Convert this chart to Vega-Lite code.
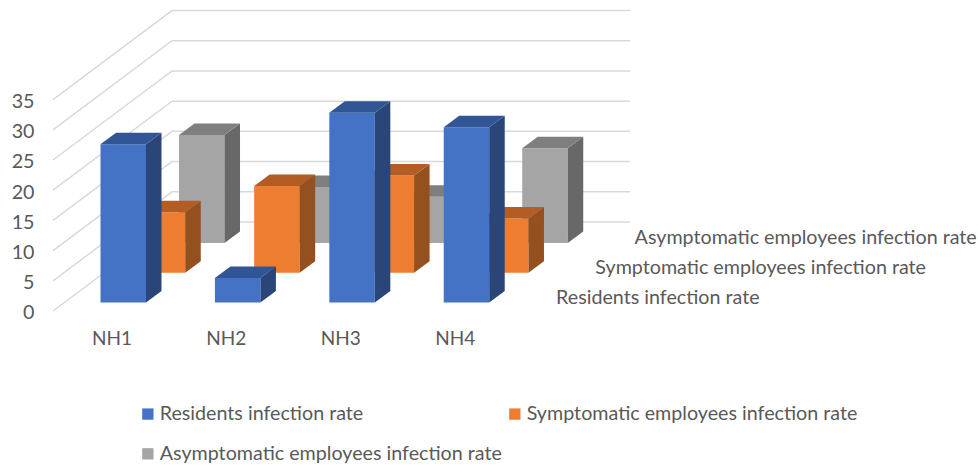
{
"$schema":"https://vega.github.io/schema/vega-lite/v6.json",
"width":978,"height":466,"padding":0,"autosize":{"type":"none"},"background":"white",
"config":{"view":{"stroke":null},"text":{"font":"Lato"}},
"datasets":{
"bars":[
{"nh":"NH1","series":"Residents infection rate","value":26.2},
{"nh":"NH2","series":"Residents infection rate","value":4.06},
{"nh":"NH3","series":"Residents infection rate","value":31.4},
{"nh":"NH4","series":"Residents infection rate","value":29.0},
{"nh":"NH1","series":"Symptomatic employees infection rate","value":10.0},
{"nh":"NH2","series":"Symptomatic employees infection rate","value":14.35},
{"nh":"NH3","series":"Symptomatic employees infection rate","value":16.1},
{"nh":"NH4","series":"Symptomatic employees infection rate","value":9.0},
{"nh":"NH1","series":"Asymptomatic employees infection rate","value":17.9},
{"nh":"NH2","series":"Asymptomatic employees infection rate","value":9.27},
{"nh":"NH3","series":"Asymptomatic employees infection rate","value":7.67},
{"nh":"NH4","series":"Asymptomatic employees infection rate","value":15.7}
],
"ticks":[{"tick":0},{"tick":5},{"tick":10},{"tick":15},{"tick":20},{"tick":25},{"tick":30},{"tick":35}],
"cats":[{"nh":"NH1","i":0},{"nh":"NH2","i":1},{"nh":"NH3","i":2},{"nh":"NH4","i":3}],
"names":[{"series":"Residents infection rate","d":0},{"series":"Symptomatic employees infection rate","d":1},{"series":"Asymptomatic employees infection rate","d":2}]
},
"data":{"name":"bars"},
"transform":[
{"calculate":"indexof(['NH1','NH2','NH3','NH4'],datum.nh)","as":"i"},
{"calculate":"indexof(['Residents infection rate','Symptomatic employees infection rate','Asymptomatic employees infection rate'],datum.series)","as":"d"},
{"calculate":"datum.i+datum.d*0.3431","as":"xl"},
{"calculate":"datum.xl+0.3977","as":"xr"},
{"calculate":"datum.d*4.925","as":"base"},
{"calculate":"datum.base+datum.value","as":"top"}
],
"layer":[
{"data":{"name":"ticks"},
"transform":[{"calculate":"[0,1,2]","as":"k"},{"flatten":["k"]},
{"calculate":"datum.k==0?-0.4152:datum.k==1?0.625:4.6285","as":"gx"},
{"calculate":"datum.tick+(datum.k==0?-1.41:13.33)","as":"gy"}],
"mark":{"type":"line","stroke":"#D9D9D9","strokeWidth":1.5},
"encoding":{
"x":{"field":"gx","type":"quantitative","axis":null,"scale":{"domain":[-0.8785,7.67],"range":[0,978],"nice":false,"zero":false}},
"y":{"field":"gy","type":"quantitative","scale":{"domain":[-27.07,50.08],"range":[466,0],"nice":false,"zero":false},
"axis":{"title":null,"values":[0,5,10,15,20,25,30,35],"domain":false,"ticks":false,"grid":false,"orient":"left","offset":-34,"labelPadding":0,"labelOffset":10.5,"labelFont":"Lato","labelFontSize":19.7,"labelColor":"#595959"}},
"detail":{"field":"tick"},
"order":{"field":"k"}}},

{"transform":[{"filter":"datum.d==2"}],"mark":{"type":"rect"},
"encoding":{"x":{"field":"xl","type":"quantitative","axis":null},"x2":{"field":"xr"},"y":{"field":"base","type":"quantitative"},"y2":{"field":"top"},
"color":{"field":"series","type":"nominal","scale":{"domain":["Residents infection rate","Symptomatic employees infection rate","Asymptomatic employees infection rate"],"range":["#4472C4","#ED7D31","#A5A5A5"]},
"legend":{"title":null,"orient":"none","direction":"horizontal","legendX":138,"legendY":404,"columns":2,"columnPadding":3,"rowPadding":19,"symbolType":"square","symbolSize":128,"symbolStrokeWidth":0,"labelFont":"Lato","labelFontSize":19.7,"labelColor":"#595959","labelLimit":500,"labelOffset":2}}}},
{"transform":[{"filter":"datum.d==2"},{"calculate":"[0,1]","as":"k"},{"flatten":["k"]},{"calculate":"datum.xr+datum.k*0.1355","as":"fx"},{"calculate":"datum.top+datum.k*1.904","as":"fy"},{"calculate":"datum.base+datum.k*1.904","as":"fy2"}],
"mark":{"type":"area","fill":"#686868"},
"encoding":{"x":{"field":"fx","type":"quantitative","axis":null},"y":{"field":"fy","type":"quantitative"},"y2":{"field":"fy2"},"detail":{"field":"nh"}}},
{"transform":[{"filter":"datum.d==2"},{"calculate":"[0,1,2,3]","as":"k"},{"flatten":["k"]},{"calculate":"datum.k==0?datum.xl:datum.k==1?datum.xl+0.1355:datum.k==2?datum.xr:datum.xr+0.1355","as":"fx"},{"calculate":"datum.k==0?datum.top:datum.top+1.904","as":"fy"},{"calculate":"datum.k==3?datum.top+1.904:datum.top","as":"fy2"}],
"mark":{"type":"area","fill":"#7F7F7F"},
"encoding":{"x":{"field":"fx","type":"quantitative","axis":null},"y":{"field":"fy","type":"quantitative"},"y2":{"field":"fy2"},"detail":{"field":"nh"}}},

{"transform":[{"filter":"datum.d==1"}],"mark":{"type":"rect"},
"encoding":{"x":{"field":"xl","type":"quantitative","axis":null},"x2":{"field":"xr"},"y":{"field":"base","type":"quantitative"},"y2":{"field":"top"},"color":{"field":"series","type":"nominal"}}},
{"transform":[{"filter":"datum.d==1"},{"calculate":"[0,1]","as":"k"},{"flatten":["k"]},{"calculate":"datum.xr+datum.k*0.1355","as":"fx"},{"calculate":"datum.top+datum.k*1.904","as":"fy"},{"calculate":"datum.base+datum.k*1.904","as":"fy2"}],
"mark":{"type":"area","fill":"#95501F"},
"encoding":{"x":{"field":"fx","type":"quantitative","axis":null},"y":{"field":"fy","type":"quantitative"},"y2":{"field":"fy2"},"detail":{"field":"nh"}}},
{"transform":[{"filter":"datum.d==1"},{"calculate":"[0,1,2,3]","as":"k"},{"flatten":["k"]},{"calculate":"datum.k==0?datum.xl:datum.k==1?datum.xl+0.1355:datum.k==2?datum.xr:datum.xr+0.1355","as":"fx"},{"calculate":"datum.k==0?datum.top:datum.top+1.904","as":"fy"},{"calculate":"datum.k==3?datum.top+1.904:datum.top","as":"fy2"}],
"mark":{"type":"area","fill":"#B35C24"},
"encoding":{"x":{"field":"fx","type":"quantitative","axis":null},"y":{"field":"fy","type":"quantitative"},"y2":{"field":"fy2"},"detail":{"field":"nh"}}},

{"transform":[{"filter":"datum.d==0"}],"mark":{"type":"rect"},
"encoding":{"x":{"field":"xl","type":"quantitative","axis":null},"x2":{"field":"xr"},"y":{"field":"base","type":"quantitative"},"y2":{"field":"top"},"color":{"field":"series","type":"nominal"}}},
{"transform":[{"filter":"datum.d==0"},{"calculate":"[0,1]","as":"k"},{"flatten":["k"]},{"calculate":"datum.xr+datum.k*0.1355","as":"fx"},{"calculate":"datum.top+datum.k*1.904","as":"fy"},{"calculate":"datum.base+datum.k*1.904","as":"fy2"}],
"mark":{"type":"area","fill":"#2A4679"},
"encoding":{"x":{"field":"fx","type":"quantitative","axis":null},"y":{"field":"fy","type":"quantitative"},"y2":{"field":"fy2"},"detail":{"field":"nh"}}},
{"transform":[{"filter":"datum.d==0"},{"calculate":"[0,1,2,3]","as":"k"},{"flatten":["k"]},{"calculate":"datum.k==0?datum.xl:datum.k==1?datum.xl+0.1355:datum.k==2?datum.xr:datum.xr+0.1355","as":"fx"},{"calculate":"datum.k==0?datum.top:datum.top+1.904","as":"fy"},{"calculate":"datum.k==3?datum.top+1.904:datum.top","as":"fy2"}],
"mark":{"type":"area","fill":"#325695"},
"encoding":{"x":{"field":"fx","type":"quantitative","axis":null},"y":{"field":"fy","type":"quantitative"},"y2":{"field":"fy2"},"detail":{"field":"nh"}}},

{"data":{"name":"cats"},
"transform":[{"calculate":"datum.i+0.1","as":"tx"},{"calculate":"-6.04","as":"ty"}],
"mark":{"type":"text","font":"Lato","fontSize":19,"fill":"#595959","align":"center","baseline":"middle"},
"encoding":{"x":{"field":"tx","type":"quantitative","axis":null},"y":{"field":"ty","type":"quantitative"},"text":{"field":"nh"}}},
{"data":{"name":"names"},
"transform":[{"calculate":"3.982+datum.d*0.3431","as":"tx"},{"calculate":"0.745+datum.d*4.925","as":"ty"}],
"mark":{"type":"text","font":"Lato","fontSize":19.7,"fill":"#595959","align":"left","baseline":"middle"},
"encoding":{"x":{"field":"tx","type":"quantitative","axis":null},"y":{"field":"ty","type":"quantitative"},"text":{"field":"series"}}}
]
}
